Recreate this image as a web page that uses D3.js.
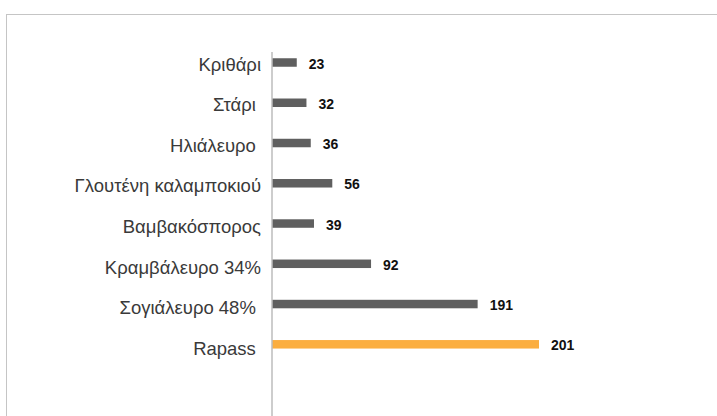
<!DOCTYPE html>
<html>
<head>
<meta charset="utf-8">
<script src="https://cdn.jsdelivr.net/npm/d3@7"></script>
<style>
  html, body { margin: 0; padding: 0; background: #fff; }
  svg { display: block; }
  .cat { white-space: pre; }
</style>
</head>
<body>
<svg id="chart"></svg>
<script>
const width = 717, height = 416;

// categories as shown (some labels carry a trailing space in the source)
const categories = ["Κριθάρι", "Στάρι ", "Ηλιάλευρο ", "Γλουτένη καλαμποκιού",
    "Βαμβακόσπορος", "Κραμβάλευρο 34%", "Σογιάλευρο 48% ", "Rapass "];
// printed values
const values = [23, 32, 36, 56, 39, 92, 191, 201];
// drawn bar lengths (the Rapass bar is drawn longer than its label)
const barValues = [23, 32, 36, 56, 39, 92, 191, 248];
const highlight = "Rapass ";

const axisX = 272, barH = 8.5;

const svg = d3.select("#chart")
    .attr("width", width)
    .attr("height", height)
    .attr("viewBox", [0, 0, width, height]);

// dotted frame (runs off the right and bottom edges)
svg.append("rect")
    .attr("x", 6.5).attr("y", 14.5)
    .attr("width", width + 10).attr("height", height + 10)
    .attr("fill", "none")
    .attr("stroke", "#8a8a8a")
    .attr("stroke-width", 1)
    .attr("stroke-dasharray", "1,1");

const x = d3.scaleLinear()
    .domain([0, 248])
    .range([axisX, 539]);

const y = d3.scalePoint()
    .domain(categories)
    .range([62.5, 344.3]);

const rows = categories.map((c, i) => ({cat: c, value: values[i], bar: barValues[i]}));

// bars
svg.append("g")
    .selectAll("rect")
    .data(rows)
    .join("rect")
    .attr("x", x(0))
    .attr("y", d => y(d.cat) - barH / 2)
    .attr("width", d => x(d.bar) - x(0))
    .attr("height", barH)
    .attr("fill", d => d.cat === highlight ? "#fbae40" : "#5f5f5f");

// category axis line
svg.append("line")
    .attr("x1", axisX).attr("x2", axisX)
    .attr("y1", 52).attr("y2", height)
    .attr("stroke", "#bdbdbd")
    .attr("stroke-width", 1.5);

// category labels
svg.append("g")
    .selectAll("text")
    .data(rows)
    .join("text")
    .attr("class", "cat")
    .attr("x", 261)
    .attr("y", (d, i) => y(d.cat) + 8 + i * 0.35)
    .attr("text-anchor", "end")
    .attr("font-family", "'Liberation Sans', Arial, sans-serif")
    .attr("font-size", 18.5)
    .attr("fill", "#3a3a3a")
    .text(d => d.cat);

// value labels
svg.append("g")
    .selectAll("text")
    .data(rows)
    .join("text")
    .attr("x", d => x(d.bar) + 12)
    .attr("y", d => y(d.cat) + 1)
    .attr("dominant-baseline", "central")
    .attr("font-family", "'Liberation Sans', Arial, sans-serif")
    .attr("font-size", 14)
    .attr("font-weight", "bold")
    .attr("fill", "#111")
    .text(d => d.value);
</script>
</body>
</html>
